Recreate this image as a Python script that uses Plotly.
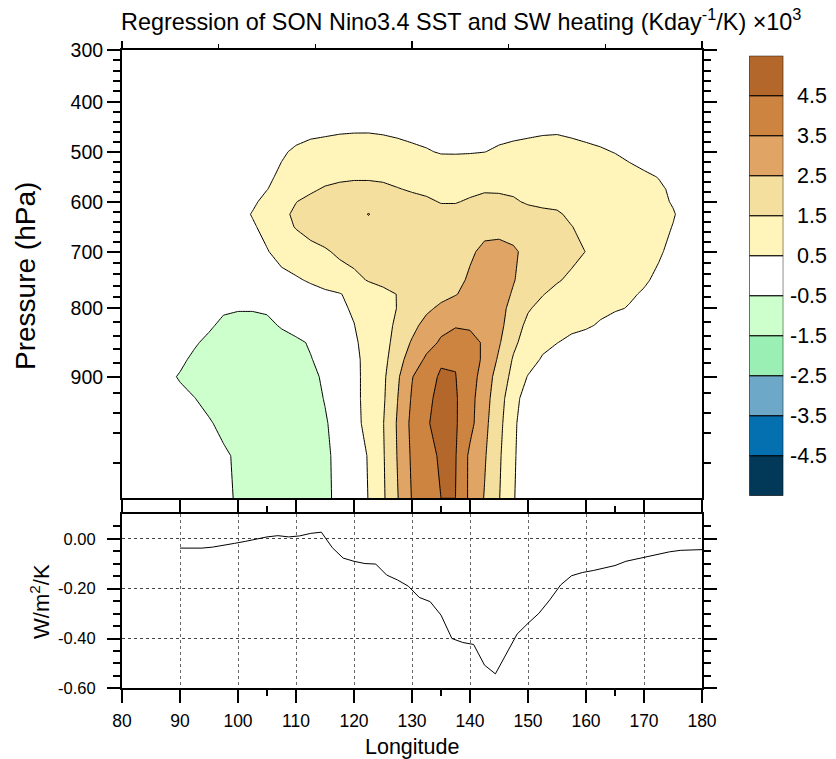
import numpy as np
import plotly.graph_objects as go

W, H = 836, 759
FONT = "Liberation Sans, Arial, Helvetica, sans-serif"

# ---------------- data: SW heating regression (x1000 K/day per K) ----------------
LON = [80, 82.5, 85, 87.5, 90, 92.5, 95, 97.5, 100, 102.5, 105, 107.5, 110, 112.5, 115, 117.5,
       120, 122.5, 125, 127.5, 130, 132.5, 135, 137.5, 140, 142.5, 145, 147.5, 150, 152.5, 155,
       157.5, 160, 162.5, 165, 167.5, 170, 172.5, 175, 177.5, 180]

P_LEVELS = [300, 350, 400, 450, 500, 550, 575, 600, 625, 650, 700, 750, 775, 800, 825, 850,
            875, 900, 925, 950, 975, 1000]

SW_HEATING = [
    # 300
    [0, 0, 0, 0, 0, 0, 0, 0, 0, 0, 0, 0, 0, 0, 0, 0, 0, 0, 0, 0, 0, 0, 0, 0, 0, 0, 0, 0, 0, 0, 0, 0, 0, 0, 0, 0, 0, 0, 0, 0, 0],
    # 350
    [0, 0, 0, 0, 0, 0, 0, 0, 0, 0, 0, 0, 0, 0, 0, 0, 0, 0, 0, 0, 0, 0, 0, 0, 0, 0, 0, 0, 0, 0, 0, 0, 0, 0, 0, 0, 0, 0, 0, 0, 0],
    # 400
    [0, 0, 0, 0, 0, 0, 0, 0, 0, 0, 0, 0, 0.05, 0.1, 0.12, 0.15, 0.15, 0.15, 0.15, 0.12,
     0.1, 0.08, 0.05, 0.05, 0.05, 0.08, 0.1, 0.1, 0.12, 0.15, 0.15, 0.12, 0.1, 0.08, 0.05, 0, 0, 0, 0, 0, 0],
    # 450
    [0, 0, 0, 0, 0, 0, 0, 0, 0, 0, 0, 0.05, 0.15, 0.25, 0.3, 0.35, 0.38, 0.4, 0.38, 0.33,
     0.28, 0.22, 0.18, 0.18, 0.2, 0.24, 0.28, 0.3, 0.33, 0.38, 0.4, 0.35, 0.3, 0.25, 0.2, 0.15, 0.1, 0.05, 0, 0, 0],
    # 500
    [0, 0, 0, 0, 0, 0, 0, 0, 0, 0, 0.1, 0.4, 0.62, 0.75, 0.8, 0.85, 0.85, 0.8, 0.75, 0.7,
     0.62, 0.55, 0.45, 0.45, 0.46, 0.49, 0.58, 0.65, 0.7, 0.72, 0.72, 0.68, 0.62, 0.56, 0.48, 0.35, 0.2, 0.1, 0, 0, 0],
    # 550
    [0, 0, 0, 0, 0, 0, 0, 0, 0, 0.1, 0.35, 0.65, 0.95, 1.15, 1.2, 1.3, 1.35, 1.35, 1.3, 1.2,
     1.15, 1.05, 1.0, 0.95, 1.0, 1.05, 1.05, 1.05, 1.0, 1.0, 1.0, 0.95, 0.9, 0.85, 0.8, 0.7, 0.6, 0.48, 0.2, 0.05, 0],
    # 575
    [0, 0, 0, 0, 0, 0, 0, 0, 0.05, 0.2, 0.48, 0.8, 1.1, 1.35, 1.6, 1.75, 1.85, 1.85, 1.75, 1.55,
     1.4, 1.3, 1.2, 1.2, 1.3, 1.4, 1.4, 1.35, 1.25, 1.2, 1.15, 1.1, 1.05, 1.0, 0.9, 0.8, 0.7, 0.6, 0.4, 0.15, 0],
    # 600
    [0, 0, 0, 0, 0, 0, 0, 0.05, 0.15, 0.35, 0.75, 1.15, 1.48, 1.75, 1.9, 2.0, 2.1, 2.2, 2.15, 1.95,
     1.8, 1.65, 1.45, 1.45, 1.6, 1.75, 1.7, 1.6, 1.4, 1.3, 1.3, 1.25, 1.15, 1.05, 0.95, 0.85, 0.75, 0.65, 0.45, 0.2, 0.05],
    # 625
    [0, 0, 0, 0, 0, 0, 0, 0.05, 0.2, 0.55, 0.95, 1.3, 1.65, 1.9, 2.05, 2.15, 2.3, 2.52, 2.3, 2.1,
     2.0, 1.9, 1.8, 1.8, 1.9, 2.0, 2.0, 1.9, 1.8, 1.7, 1.6, 1.35, 1.2, 1.1, 1.0, 0.9, 0.8, 0.7, 0.55, 0.25, 0.05],
    # 650
    [0, 0, 0, 0, 0, 0, 0, 0.05, 0.2, 0.4, 0.75, 1.2, 1.55, 1.8, 2.0, 2.1, 2.2, 2.3, 2.3, 2.25,
     2.2, 2.15, 2.1, 2.1, 2.15, 2.3, 2.3, 2.2, 2.0, 1.85, 1.7, 1.52, 1.3, 1.15, 1.0, 0.9, 0.8, 0.7, 0.48, 0.2, 0.05],
    # 700
    [0, 0, 0, 0, 0, 0, 0, 0, 0.05, 0.2, 0.45, 0.8, 1.05, 1.25, 1.4, 1.65, 1.8, 1.9, 1.95, 2.0,
     2.05, 2.1, 2.15, 2.25, 2.4, 2.65, 2.7, 2.6, 2.3, 2.05, 1.95, 1.8, 1.48, 1.25, 1.05, 0.9, 0.75, 0.6, 0.3, 0.1, 0],
    # 750
    [0, 0, 0, 0, 0, 0, 0, 0, 0, 0.05, 0.1, 0.25, 0.4, 0.6, 0.9, 1.1, 1.3, 1.55, 1.7, 1.8,
     1.9, 2.0, 2.1, 2.3, 2.6, 2.85, 2.9, 2.55, 2.1, 1.85, 1.6, 1.3, 1.1, 0.95, 0.85, 0.75, 0.6, 0.35, 0.1, 0, 0],
    # 775
    [0, 0, 0, 0, 0, 0, 0, -0.1, -0.15, -0.15, -0.1, 0, 0.1, 0.2, 0.3, 0.45, 0.75, 1.1, 1.3, 1.52,
     1.8, 2.0, 2.2, 2.45, 2.8, 2.95, 2.9, 2.4, 1.95, 1.55, 1.2, 1.0, 0.9, 0.8, 0.7, 0.6, 0.42, 0.2, 0.05, 0, 0],
    # 800
    [0, 0, 0, 0, 0, 0, -0.1, -0.3, -0.4, -0.4, -0.35, -0.2, 0, 0.1, 0.2, 0.35, 0.6, 0.95, 1.25, 1.52,
     1.9, 2.3, 2.7, 3.0, 3.1, 3.0, 2.75, 2.25, 1.6, 1.2, 1.0, 0.9, 0.8, 0.7, 0.6, 0.45, 0.2, 0.05, 0, 0, 0],
    # 825
    [0, 0, 0, 0, 0, 0, -0.3, -0.8, -0.95, -0.95, -0.75, -0.4, -0.1, 0, 0.1, 0.3, 0.48, 0.9, 1.2, 1.65,
     2.2, 2.85, 3.3, 3.45, 3.4, 3.2, 2.75, 2.0, 1.25, 1.0, 0.85, 0.7, 0.62, 0.4, 0.1, 0, 0, 0, 0, 0, 0],
    # 850
    [0, 0, 0, 0, 0, -0.35, -0.8, -1.0, -1.05, -1.05, -1.0, -0.9, -0.7, -0.4, -0.1, 0.15, 0.4, 0.75, 1.15, 1.85,
     2.6, 3.2, 3.6, 3.8, 3.75, 3.4, 2.6, 1.7, 1.05, 0.75, 0.52, 0.3, 0.1, 0, 0, 0, 0, 0, 0, 0, 0],
    # 875
    [0, 0, 0, 0, -0.25, -0.75, -1.0, -1.1, -1.1, -1.1, -1.05, -1.0, -0.85, -0.55, -0.2, 0.1, 0.35, 0.7, 1.2, 2.1,
     3.0, 3.65, 4.4, 4.45, 4.0, 3.3, 2.35, 1.4, 0.9, 0.4, 0.1, 0, 0, 0, 0, 0, 0, 0, 0, 0, 0],
    # 900
    [0, 0, 0, -0.2, -0.6, -0.9, -1.05, -1.1, -1.1, -1.1, -1.1, -1.05, -0.95, -0.8, -0.3, 0.05, 0.3, 0.75, 1.3, 2.35,
     3.45, 4.2, 4.6, 4.52, 4.0, 3.0, 2.1, 1.2, 0.45, 0.1, 0, 0, 0, 0, 0, 0, 0, 0, 0, 0, 0],
    # 925
    [0, 0, 0, 0, -0.2, -0.48, -0.8, -1.0, -1.05, -1.05, -1.05, -1.0, -0.95, -0.85, -0.45, -0.05, 0.3, 0.75, 1.35, 2.48,
     3.6, 4.3, 4.75, 4.6, 3.85, 2.85, 1.95, 0.8, 0.1, 0, 0, 0, 0, 0, 0, 0, 0, 0, 0, 0, 0],
    # 950
    [0, 0, 0, 0, 0, -0.1, -0.4, -0.75, -1.0, -1.05, -1.05, -1.0, -1.0, -0.95, -0.6, -0.1, 0.2, 0.8, 1.45, 2.6,
     3.75, 4.4, 4.85, 4.6, 3.8, 2.75, 1.8, 0.65, 0, 0, 0, 0, 0, 0, 0, 0, 0, 0, 0, 0, 0],
    # 975
    [0, 0, 0, 0, 0, 0, -0.15, -0.35, -0.65, -0.85, -0.95, -0.95, -0.95, -0.9, -0.7, -0.2, 0.1, 0.55, 1.4, 2.55,
     3.65, 4.25, 4.6, 4.55, 3.3, 2.6, 1.65, 0.6, 0, 0, 0, 0, 0, 0, 0, 0, 0, 0, 0, 0, 0],
    # 1000
    [0, 0, 0, 0, 0, 0, -0.1, -0.3, -0.6, -0.8, -0.9, -0.9, -0.9, -0.85, -0.75, -0.2, 0.05, 0.52, 1.35, 2.45,
     3.55, 4.1, 4.5, 4.5, 3.3, 2.45, 1.55, 0.55, 0, 0, 0, 0, 0, 0, 0, 0, 0, 0, 0, 0, 0],
]

# ---------------- data: surface SW flux regression (W/m2/K) ----------------
LINE_LON = [90, 91.875, 93.75, 95.625, 97.5, 99.375, 101.25, 103.125, 105, 106.875, 108.75, 110.625,
            112.5, 114.375, 116.25, 118.125, 120, 121.875, 123.75, 125.625, 127.5, 129.375, 131.25,
            133.125, 135, 136.875, 138.75, 140.625, 142.5, 144.375, 146.25, 148.125, 150, 151.875,
            153.75, 155.625, 157.5, 159.375, 161.25, 163.125, 165, 166.875, 168.75, 170.625, 172.5,
            174.375, 176.25, 178.125, 180]
SW_FLUX = [-0.037, -0.037, -0.037, -0.033, -0.027, -0.018, -0.010, 0.000, 0.008, 0.013, 0.008, 0.012,
           0.022, 0.027, -0.035, -0.077, -0.090, -0.099, -0.101, -0.145, -0.165, -0.19, -0.235,
           -0.252, -0.306, -0.40, -0.416, -0.424, -0.507, -0.542, -0.46, -0.382, -0.339, -0.299,
           -0.245, -0.185, -0.148, -0.135, -0.127, -0.118, -0.107, -0.090, -0.080, -0.071, -0.061,
           -0.052, -0.046, -0.043, -0.043]

# ---------------- contour levels / colours ----------------
LEVELS = [-4.5, -3.5, -2.5, -1.5, -0.5, 0.5, 1.5, 2.5, 3.5, 4.5]
CB_EDGES = [-5.5, -4.5, -3.5, -2.5, -1.5, -0.5, 0.5, 1.5, 2.5, 3.5, 4.5, 5.5]
COLORS = ["#023858", "#0570B0", "#6DA8C8", "#9AEFB4", "#CCFFCC", "#FFFFFF",
          "#FFF4BA", "#F4DF9E", "#E0A565", "#CC8440", "#B3672A"]

# ---------------- axis definitions ----------------
P_TICKS = [300, 400, 500, 600, 700, 800, 900]
P_MINOR = [p for p in range(320, 1000, 20) if p % 100]
# stretched pressure axis (pressure -> fraction of panel height from top)
AXIS_P = [300, 400, 500, 600, 700, 800, 900, 920, 940, 960, 980, 1000]
AXIS_S = [0.0, 0.1153, 0.2269, 0.3384, 0.4499, 0.5762, 0.7288, 0.7658, 0.8104, 0.8550, 0.9219, 1.0]
X_TICKS = [80, 90, 100, 110, 120, 130, 140, 150, 160, 170, 180]
X_MINOR = [105, 135, 165]
X_TOP_TICKS = [80, 130, 180]
X_TOP_MINOR = [96.667, 113.333, 146.667, 163.333]
Y2_TICKS = [-0.6, -0.4, -0.2, 0.0]
Y2_MINOR = [-0.55, -0.5, -0.45, -0.35, -0.3, -0.25, -0.15, -0.1, -0.05, 0.05]


def p2s(p):
    return np.interp(p, AXIS_P, AXIS_S)


XD = [122 / W, 702 / W]
YD1 = [1 - 498.3 / H, 1 - 50 / H]
YD2 = [1 - 688.3 / H, 1 - 514 / H]

# discrete colour scale: colour i centred at i/10 over [-5, 5]
cscale = []
n = len(COLORS)
for i, c in enumerate(COLORS):
    lo = max(0.0, (i - 0.5) / (n - 1))
    hi = min(1.0, (i + 0.5) / (n - 1))
    cscale.append([lo, c])
    cscale.append([hi, c])

fig = go.Figure()

fig.add_trace(go.Contour(
    x=LON, y=p2s(P_LEVELS), z=SW_HEATING, xaxis="x", yaxis="y",
    autocontour=False,
    contours=dict(start=LEVELS[0], end=LEVELS[-1], size=1, coloring="fill", showlines=True),
    line=dict(color="black", width=1, smoothing=0),
    colorscale=cscale, zmin=-5, zmax=5, zauto=False, showscale=False, hoverinfo="skip",
))

# dummy trace for top axis
fig.add_trace(go.Scatter(x=[None], y=[None], xaxis="x3", yaxis="y", showlegend=False, hoverinfo="skip"))

fig.add_trace(go.Scatter(
    x=LINE_LON, y=SW_FLUX, xaxis="x2", yaxis="y2", mode="lines",
    line=dict(color="black", width=1), showlegend=False, hoverinfo="skip",
))

# colour bar drawn as stacked boxes
bases = CB_EDGES[:-1]
heights = list(np.diff(CB_EDGES))
fig.add_trace(go.Bar(
    x=[0] * len(heights), y=heights, base=bases, width=1, xaxis="x4", yaxis="y4",
    marker=dict(color=COLORS, line=dict(color="black", width=1)),
    showlegend=False, hoverinfo="skip",
))

tickfont_big = dict(family=FONT, size=19.5, color="black")
tickfont_x = dict(family=FONT, size=17.5, color="black")
tickfont_y2 = dict(family=FONT, size=16.5, color="black")
frame = dict(showline=True, linecolor="black", linewidth=2, zeroline=False, automargin=False)

fig.update_layout(
    width=W, height=H, margin=dict(l=0, r=0, t=0, b=0, pad=0, autoexpand=False),
    paper_bgcolor="white", plot_bgcolor="white", showlegend=False, barmode="overlay",
    font=dict(family=FONT, color="black"),
    xaxis=dict(domain=XD, anchor="y", range=[80, 180], showticklabels=False, ticks="",
               showgrid=False, **frame),
    xaxis3=dict(overlaying="x", side="top", anchor="y", range=[80, 180], tickmode="array",
                tickvals=X_TOP_TICKS, ticks="outside", ticklen=7, tickwidth=1.5, tickcolor="black",
                minor=dict(tickmode="array", tickvals=X_TOP_MINOR, ticks="outside", ticklen=4,
                           tickwidth=1, tickcolor="black"),
                showticklabels=False, showgrid=False, **frame),
    yaxis=dict(domain=YD1, anchor="x", range=[1, 0], tickmode="array", tickvals=list(p2s(P_TICKS)),
               ticktext=[str(p) for p in P_TICKS], ticks="outside", ticklen=13, tickwidth=2,
               tickcolor="black", mirror="ticks", showgrid=False, tickfont=tickfont_big,
               minor=dict(tickmode="array", tickvals=list(p2s(P_MINOR)), ticks="outside", ticklen=7,
                          tickwidth=1.5, tickcolor="black"),
               **frame),
    xaxis2=dict(domain=XD, anchor="y2", range=[80, 180], tickmode="array", tickvals=X_TICKS,
                ticktext=[str(v) for v in X_TICKS], ticks="outside", ticklen=13, tickwidth=2,
                tickcolor="black", mirror="ticks", showgrid=True, gridcolor="#666666",
                griddash="3px,3px", gridwidth=1, tickfont=tickfont_x, ticklabelstandoff=3,
                minor=dict(tickmode="array", tickvals=X_MINOR, ticks="outside", ticklen=6,
                           tickwidth=1.5, tickcolor="black", showgrid=False),
                **frame),
    yaxis2=dict(domain=YD2, anchor="x2", range=[-0.6, 0.1], tickmode="array", tickvals=Y2_TICKS,
                ticktext=[f"{v:.2f}" for v in Y2_TICKS], ticks="outside", ticklen=13, tickwidth=2,
                tickcolor="black", mirror="ticks", showgrid=True, gridcolor="#444444",
                griddash="3px,3px", gridwidth=1, tickfont=tickfont_y2, ticklabelstandoff=8,
                minor=dict(tickmode="array", tickvals=Y2_MINOR, ticks="outside", ticklen=7,
                           tickwidth=1.5, tickcolor="black", showgrid=False),
                **frame),
    xaxis4=dict(domain=[749.3 / W, 783.3 / W], anchor="y4", range=[-0.5, 0.5], visible=False,
                automargin=False),
    yaxis4=dict(domain=[1 - 495.7 / H, 1 - 55.7 / H], anchor="x4", range=[CB_EDGES[0], CB_EDGES[-1]],
                visible=False, automargin=False),
)

annotations = [
    dict(text="Regression of SON Nino3.4 SST and SW heating (Kday<sup>-1</sup>/K) \u00d710<sup>3</sup>",
         x=461 / W, y=1 - 20 / H, xref="paper", yref="paper", xanchor="center", yanchor="middle",
         showarrow=False, font=dict(family=FONT, size=23.4, color="black")),
    dict(text="Pressure (hPa)", x=25 / W, y=1 - 276 / H, xref="paper", yref="paper",
         xanchor="center", yanchor="middle", textangle=-90, showarrow=False,
         font=dict(family=FONT, size=28, color="black")),
    dict(text="W/m<sup>2</sup>/K", x=40 / W, y=1 - 602 / H, xref="paper", yref="paper",
         xanchor="center", yanchor="middle", textangle=-90, showarrow=False,
         font=dict(family=FONT, size=22, color="black")),
    dict(text="Longitude", x=412 / W, y=1 - 747 / H, xref="paper", yref="paper",
         xanchor="center", yanchor="middle", showarrow=False,
         font=dict(family=FONT, size=21.5, color="black")),
]
for lev in LEVELS:
    annotations.append(dict(text=f"{lev:.1f}", x=829 / W, y=lev, xref="paper", yref="y4",
                            xanchor="right", yanchor="middle", showarrow=False,
                            font=dict(family=FONT, size=21.5, color="black")))
fig.update_layout(annotations=annotations)

fig.write_html(
    "out.html",
    post_script="document.body.style.margin='0';document.body.style.padding='0';"
                "document.body.style.overflow='hidden';",
)
